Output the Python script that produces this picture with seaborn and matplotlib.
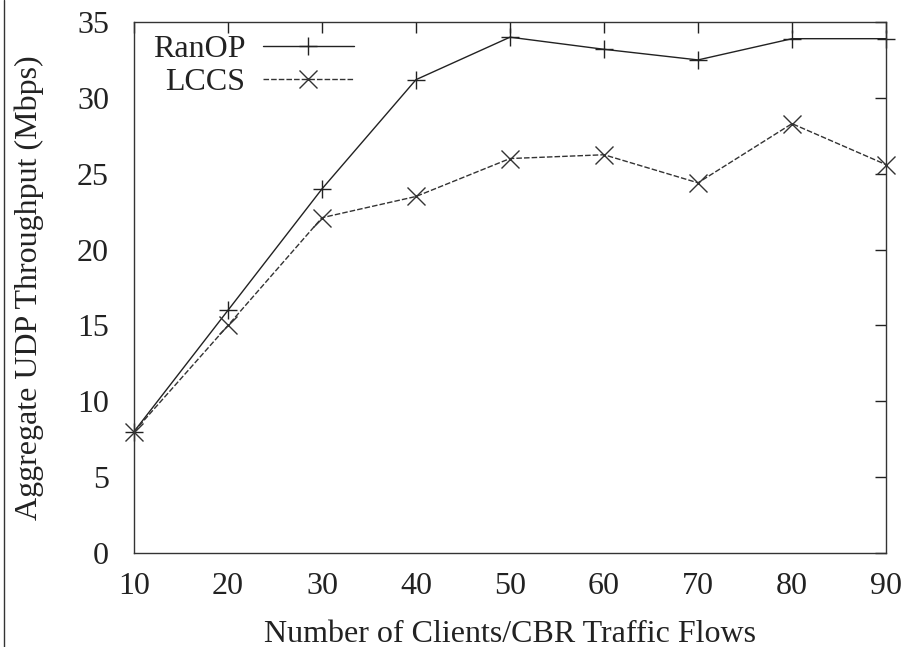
import matplotlib
matplotlib.use("Agg")
import matplotlib.pyplot as plt
import seaborn as sns
import pandas as pd
from matplotlib.lines import Line2D

clients = [10, 20, 30, 40, 50, 60, 70, 80, 90]
ranop = [8, 16, 24, 31.2, 34.0, 33.2, 32.5, 33.9, 33.9]
lccs = [8, 15, 22.1, 23.5, 26.0, 26.25, 24.4, 28.3, 25.6]
series_names = ["RanOP", "LCCS"]
xticks = [10, 20, 30, 40, 50, 60, 70, 80, 90]
yticks = [0, 5, 10, 15, 20, 25, 30, 35]

df = pd.DataFrame({
    "x": clients * 2,
    "y": ranop + lccs,
    "series": [series_names[0]] * len(clients) + [series_names[1]] * len(clients),
})

sns.set_theme(style="white")
plt.rcParams["font.family"] = ["Liberation Serif", "DejaVu Serif"]

FS = 23
C1 = "#222222"
C2 = "#333333"

fig = plt.figure(figsize=(9.06, 6.47), dpi=100)
ax = fig.add_axes([134 / 906, 1 - 553 / 647, (886 - 134) / 906, (553 - 22) / 647])

sns.lineplot(data=df, x="x", y="y", hue="series", style="series",
             palette={"RanOP": C1, "LCCS": C2},
             dashes={"RanOP": "", "LCCS": (4, 1.5)},
             markers={"RanOP": "+", "LCCS": "x"},
             markersize=13, linewidth=1.0,
             ax=ax, legend=False)
for ln in ax.lines:
    ln.set_markeredgecolor(ln.get_color())
    ln.set_markeredgewidth(1.0)
    ln.set_clip_on(False)

ax.set_xlim(10, 90)
ax.set_ylim(0, 35)
ax.set_xticks(xticks)
ax.set_yticks(yticks)
ax.tick_params(direction="in", length=8, width=1, top=True, right=True,
               labelsize=FS, colors=C1)
ax.tick_params(axis="x", pad=14)
ax.tick_params(axis="y", pad=18)
for s in ax.spines.values():
    s.set_color(C2)
    s.set_linewidth(1.0)

ax.set_xlabel("Number of Clients/CBR Traffic Flows", fontsize=FS, color=C1, labelpad=13)
ax.set_ylabel("Aggregate UDP Throughput (Mbps)", fontsize=FS, color=C1, labelpad=24)

handles = [
    Line2D([], [], color=C1, linewidth=1.0, marker="+", markersize=13, markeredgewidth=1.0),
    Line2D([], [], color=C2, linewidth=1.0, linestyle=(0, (4, 1.5)), marker="x", markersize=13, markeredgewidth=1.0),
]
leg = ax.legend(handles, series_names, loc="upper left", markerfirst=False,
                frameon=False, fontsize=FS, handlelength=2.85, handletextpad=0.55,
                labelspacing=0.1, borderaxespad=0.0, bbox_to_anchor=(0.008, 1.0))
for t in leg.get_texts():
    t.set_ha("right")
    t.set_color(C1)
leg._legend_box.align = "right"

fig.add_artist(Line2D([4 / 906, 4 / 906], [0, 1], color=C2, linewidth=1.0, transform=fig.transFigure))

fig.savefig("out.png", dpi=100)
